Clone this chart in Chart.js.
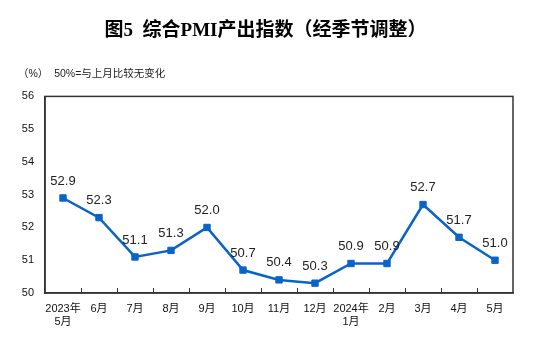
<!DOCTYPE html>
<html>
<head>
<meta charset="utf-8">
<script src="https://cdn.jsdelivr.net/npm/chart.js@4.4.1/dist/chart.umd.min.js"></script>
<style>
  html, body { margin: 0; padding: 0; background: #fff; }
  #pmiChart { display: block; }
</style>
</head>
<body>
<canvas id="pmiChart" width="554" height="345"></canvas>
<script>
// 月份（多行标签）
const months = [
  ['2023年', '5月'], '6月', '7月', '8月', '9月', '10月', '11月', '12月',
  ['2024年', '1月'], '2月', '3月', '4月', '5月'
];
// 综合PMI产出指数
const pmiValues = [52.9, 52.3, 51.1, 51.3, 52.0, 50.7, 50.4, 50.3, 50.9, 50.9, 52.7, 51.7, 51.0];
const yMin = 50;
const yMax = 56;

const tickFont = { family: "'Liberation Sans', 'Noto Sans CJK SC', sans-serif", size: 11 };

// 外框 + 朝内的x轴刻度线
const frame = {
  id: 'frame',
  beforeDatasetsDraw(chart) {
    const { ctx, chartArea: a } = chart;
    const x = chart.scales.x;
    ctx.save();
    ctx.strokeStyle = '#333';
    ctx.lineWidth = 1.5;
    ctx.strokeRect(a.left, a.top, a.right - a.left, a.bottom - a.top);
    ctx.lineWidth = 1;
    ctx.beginPath();
    for (let i = 1; i < months.length; i++) {
      const px = Math.round((x.getPixelForValue(i - 1) + x.getPixelForValue(i)) / 2) + 0.5;
      ctx.moveTo(px, a.bottom);
      ctx.lineTo(px, a.bottom - 5);
    }
    ctx.stroke();
    ctx.restore();
  }
};

// 数值标签
const valueLabels = {
  id: 'valueLabels',
  afterDatasetsDraw(chart) {
    const { ctx } = chart;
    const meta = chart.getDatasetMeta(0);
    ctx.save();
    ctx.font = "13px 'Liberation Sans', Arial, sans-serif";
    ctx.fillStyle = '#222';
    ctx.textAlign = 'center';
    ctx.textBaseline = 'middle';
    meta.data.forEach((pt, i) => {
      ctx.fillText(pmiValues[i].toFixed(1), pt.x, pt.y - 17);
    });
    ctx.restore();
  }
};

new Chart(document.getElementById('pmiChart'), {
  type: 'line',
  data: {
    labels: months,
    datasets: [{
      data: pmiValues,
      borderColor: '#0a64c8',
      backgroundColor: '#0a64c8',
      borderWidth: 2.5,
      pointStyle: 'rect',
      pointRadius: 4.5,
      pointBorderWidth: 1,
      tension: 0
    }]
  },
  options: {
    responsive: false,
    animation: false,
    layout: { padding: { left: 18, right: 41, top: 0, bottom: 0 } },
    plugins: {
      legend: { display: false },
      tooltip: { enabled: false },
      title: {
        display: true,
        text: '图5  综合PMI产出指数（经季节调整）',
        color: '#000',
        font: { family: "'Liberation Serif', 'Noto Sans CJK SC', serif", size: 19, weight: 'bold' },
        padding: { top: 20, bottom: 25 }
      },
      subtitle: {
        display: true,
        text: '（%）  50%=与上月比较无变化',
        align: 'start',
        color: '#222',
        font: { family: tickFont.family, size: 10.5 },
        padding: { top: 0, bottom: 16 }
      }
    },
    scales: {
      x: {
        offset: true,
        grid: { display: false, drawTicks: false },
        border: { color: '#333', width: 1.5 },
        ticks: { color: '#111', font: tickFont, padding: 9, maxRotation: 0, autoSkip: false },
        afterFit(scale) { scale.height = 52; }
      },
      y: {
        min: yMin,
        max: yMax,
        grid: { display: false, drawTicks: false },
        border: { color: '#333', width: 1.5 },
        ticks: { stepSize: 1, color: '#111', font: tickFont, padding: 11 },
        afterFit(scale) { scale.width = 27; }
      }
    }
  },
  plugins: [frame, valueLabels]
});
</script>
</body>
</html>
